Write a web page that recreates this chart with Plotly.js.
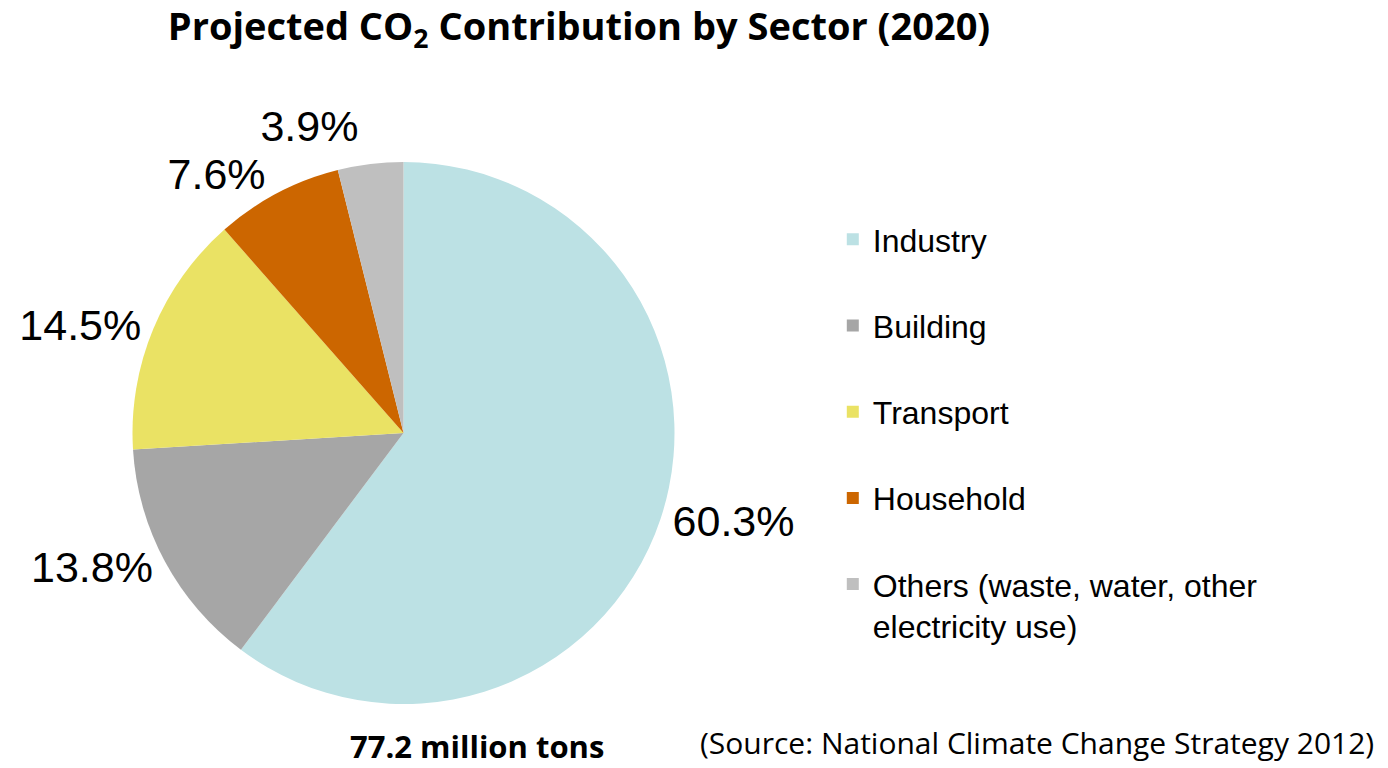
<!DOCTYPE html>
<html>
<head>
<meta charset="utf-8">
<script src="https://cdn.plot.ly/plotly-3.0.1.min.js"></script>
<style>html,body{margin:0;padding:0;background:#fff;}#chart{width:1388px;height:768px;}
path.textline{display:none;}</style>
</head>
<body>
<div id="chart"></div>
<script>
const sectors = ["Industry", "Building", "Transport", "Household", "Others (waste, water, other<br>electricity use)"];
const shares = [60.3, 13.8, 14.5, 7.6, 3.9];
const colors = ["#BCE1E4", "#A6A6A6", "#EAE264", "#CC6600", "#BFBFBF"];

// every legend entry takes two lines, as in the reference
const legendLabels = sectors.map(s => s.indexOf('<br>') >= 0 ? s : s + '<br>\u00A0');

const trace = {
  type: 'pie',
  labels: legendLabels,
  values: shares,
  sort: false,
  direction: 'clockwise',
  rotation: 0,
  marker: {colors: colors, line: {width: 0}},
  texttemplate: '%{value:.1f}%',
  textposition: 'outside',
  outsidetextfont: {family: 'Liberation Sans, Arial, sans-serif', size: 43, color: '#000'},
  domain: {x: [132/1388, 675/1388], y: [64/768, 606/768]},
  hoverinfo: 'skip'
};

const layout = {
  width: 1388, height: 768,
  margin: {l: 0, r: 0, t: 0, b: 0},
  paper_bgcolor: '#fff',
  title: {
    text: 'Projected CO<sub>2</sub> Contribution by Sector (2020)',
    font: {family: 'Open Sans, sans-serif', size: 38, color: '#000', weight: 'bold'},
    x: 579/1388, xanchor: 'center', xref: 'paper',
    y: 1 - 27/768, yanchor: 'middle', yref: 'container'
  },
  showlegend: true,
  legend: {
    x: 0.600, xanchor: 'left', y: 1 - 212/768, yanchor: 'top',
    font: {family: 'Liberation Sans, Arial, sans-serif', size: 32, color: '#000'},
    valign: 'top', bgcolor: 'rgba(0,0,0,0)'
  },
  annotations: [
    {text: '<b>77.2 million tons</b>', xref: 'paper', yref: 'paper', x: 477/1388, y: 0,
     xanchor: 'center', yanchor: 'bottom', showarrow: false, borderpad: 0,
     font: {family: 'Open Sans, sans-serif', size: 31, color: '#000'}},
    {text: '(Source: National Climate Change Strategy 2012)', xref: 'paper', yref: 'paper', x: 1037/1388, y: 4/768,
     xanchor: 'center', yanchor: 'bottom', showarrow: false, borderpad: 0,
     font: {family: 'Open Sans, sans-serif', size: 30, color: '#000'}}
  ]
};

Plotly.newPlot('chart', [trace], layout, {displayModeBar: false, responsive: false});
</script>
</body>
</html>
